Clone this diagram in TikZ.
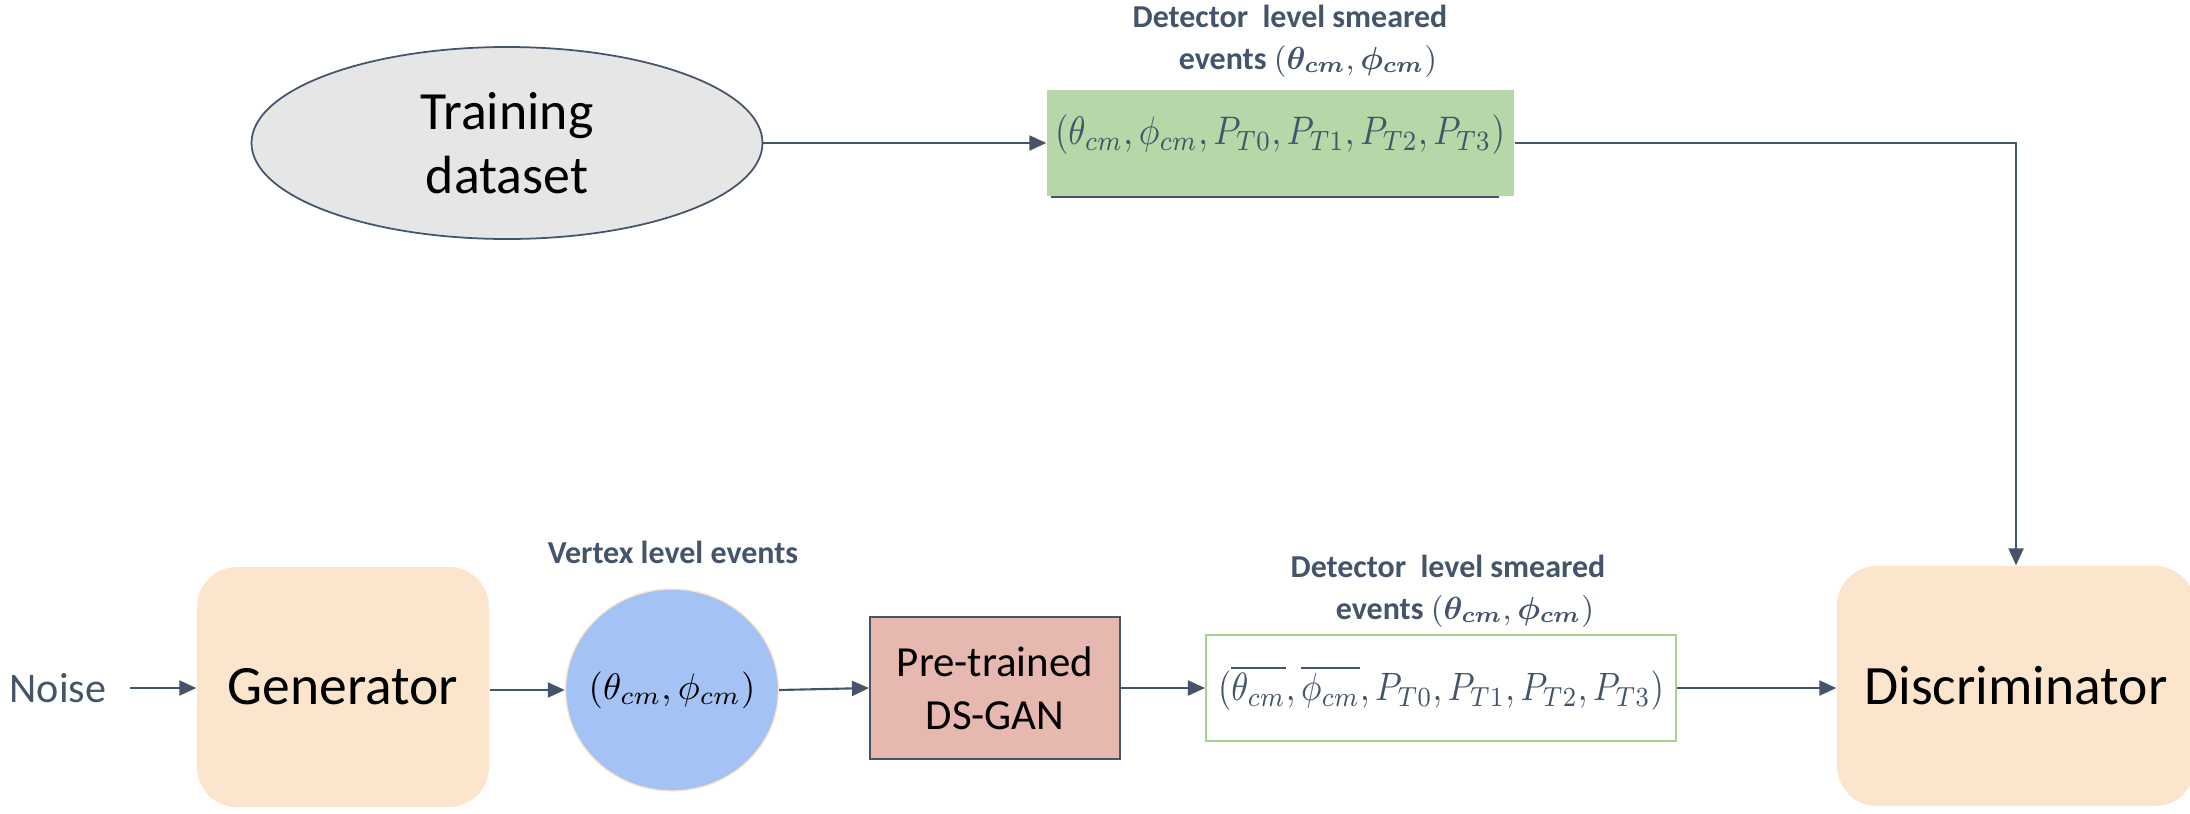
\RequirePackage{fix-cm}
\documentclass[tikz,border=0pt]{standalone}
\usepackage[no-math]{fontspec}
\setmainfont{Carlito}
\usepackage{amsmath}
\usepackage{bm}
\usepackage{graphicx}
\usetikzlibrary{arrows.meta,shapes.geometric}
\definecolor{slate}{HTML}{44546A}
\definecolor{gfill}{HTML}{B6D7A8}
\definecolor{gedge}{HTML}{A9D08E}
\definecolor{peach}{HTML}{FCE5CD}
\definecolor{ellfill}{HTML}{E7E6E6}
\definecolor{bluec}{HTML}{A4C2F4}
\definecolor{rose}{HTML}{E6B8AF}
\tikzset{
  conn/.style={draw=slate, line width=0.6pt, -{Triangle[length=1.7mm,width=1.5mm]}},
  softbox/.style={fill=peach, rounded corners=4mm, font=\fontsize{15.8}{18}\selectfont},
  lbl/.style={font=\bfseries\fontsize{9.1}{12}\selectfont, text=slate, align=center},
  mathtxt/.style={text=slate, font=\fontsize{10}{12}\selectfont},
}
\begin{document}
\begin{tikzpicture}[x=0.1mm,y=-0.1mm, every node/.style={inner sep=0pt}]
\useasboundingbox (0,0) rectangle (2190,813);

% top row
\node[ellipse, draw=slate, line width=0.5pt, fill=ellfill, minimum width=51.1mm, minimum height=19.2mm,
      align=center, font=\fontsize{15.3}{18.2}\selectfont] (ell) at (507,143) {Training\\dataset};
\node[fill=gfill, minimum width=46.7mm, minimum height=10.6mm] (green) at (1280.5,143) {};
\node[mathtxt] (gtext) at (1280,135) {\resizebox{45mm}{!}{\scalebox{1}[1.15]{$(\theta_{cm},\phi_{cm},P_{T0},P_{T1},P_{T2},P_{T3})$}}};
\coordinate (ulA) at (1051,197);
\coordinate (ulB) at (1499,197);
\draw[slate, line width=0.6pt] (ulA) -- (ulB);
\node[lbl] (toplbl) at (1290,41) {Detector\ \ level smeared\\\hspace*{3.6mm}events $(\bm{\theta_{cm}},\bm{\phi_{cm}})$};

% bottom row
\node[text=slate, font=\fontsize{12}{14}\selectfont, inner xsep=2.3mm] (noise) at (58,688) {Noise};
\node[softbox, minimum width=29.2mm, minimum height=24mm] (gen) at (343,687) {Generator};
\node[ellipse, draw=peach, line width=0.4pt, fill=bluec, minimum width=21.3mm, minimum height=20.2mm,
      font=\fontsize{10.5}{12}\selectfont] (circ) at (672,690) {\makebox[0pt]{$(\theta_{cm},\phi_{cm})$}};
\node[lbl] (vlbl) at (673,552) {Vertex level events};
\node[draw=slate, line width=0.6pt, fill=rose, minimum width=25mm, minimum height=14.2mm, align=center,
      font=\fontsize{12.2}{15}\selectfont] (ds) at (995,688) {Pre-trained\\DS-GAN};
\node[draw=gedge, line width=0.6pt, fill=white, minimum width=47mm, minimum height=10.6mm, mathtxt] (low) at (1441,688)
      {\resizebox{44.6mm}{!}{\scalebox{1}[1.15]{$(\overline{\theta_{cm}},\overline{\phi_{cm}},P_{T0},P_{T1},P_{T2},P_{T3})$}}};
\node[lbl] (lowlbl) at (1448,591) {Detector\ \ level smeared\\\hspace*{3.4mm}events $(\bm{\theta_{cm}},\bm{\phi_{cm}})$};
\node[softbox, minimum width=35.8mm, minimum height=24mm] (disc) at (2016,686) {Discriminator};

% connectors
\draw[conn] (ell.east) -- (green.west);
\draw[conn] (green.east) -| (disc.north);
\draw[conn] (noise.east) -- (gen.west |- noise.east);
\draw[conn] (gen.east |- circ.west) -- (circ.west);
\draw[conn] (circ.east) -- (ds.west);
\draw[conn] (ds.east) -- (low.west);
\draw[conn] (low.east) -- (disc.west |- low.east);
\end{tikzpicture}
\end{document}
